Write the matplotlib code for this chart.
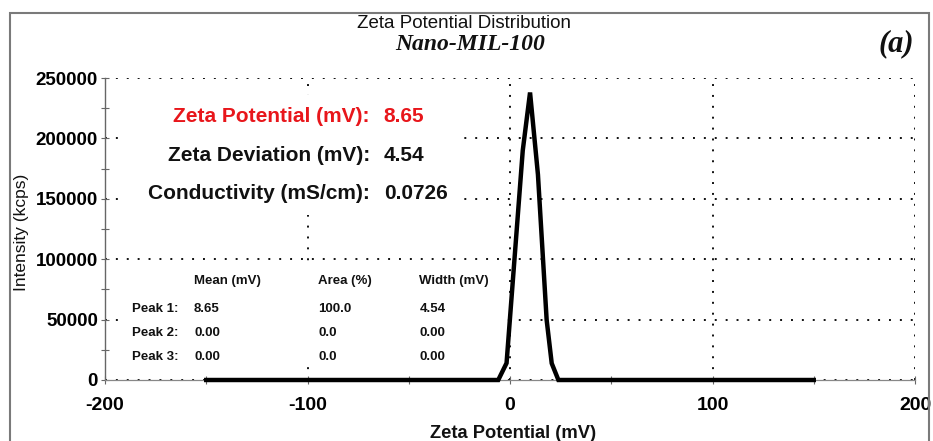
import matplotlib
matplotlib.use("Agg")
import matplotlib.pyplot as plt
from matplotlib.patches import Rectangle
from matplotlib.ticker import MultipleLocator

# Measured distribution (zeta potential in mV vs intensity in kcps)
zeta_mv = [-150.0, -5.8, -1.7, 6.3, 9.9, 13.8, 18.1, 20.6, 23.9, 150.0]
intensity_kcps = [0, 0, 14000, 190000, 238000, 170000, 49700, 13800, 0, 0]

# Summary results
summary_labels = ["Zeta Potential (mV):", "Zeta Deviation (mV):", "Conductivity (mS/cm):"]
summary_values = ["8.65", "4.54", "0.0726"]
summary_colors = ["#e8161b", "#111111", "#111111"]

# Peak table
table_headers = ["Mean (mV)", "Area (%)", "Width (mV)"]
peak_names = ["Peak 1:", "Peak 2:", "Peak 3:"]
peak_mean = ["8.65", "0.00", "0.00"]
peak_area = ["100.0", "0.0", "0.0"]
peak_width = ["4.54", "0.00", "0.00"]

x_ticks = [-200, -100, 0, 100, 200]
y_ticks = [0, 50000, 100000, 150000, 200000, 250000]

SANS = ["Liberation Sans", "DejaVu Sans"]
SERIF = ["Liberation Serif", "DejaVu Serif"]

fig = plt.figure(figsize=(9.33, 4.41), dpi=100)
fig.patch.set_facecolor("white")
ax = fig.add_axes([105 / 933, 1 - 380 / 441, 810 / 933, 302 / 441])

ax.set_xlim(-200, 200)
ax.set_ylim(0, 250000)
ax.set_xticks(x_ticks)
ax.set_yticks(y_ticks)
ax.xaxis.set_minor_locator(MultipleLocator(50))
ax.yaxis.set_minor_locator(MultipleLocator(25000))
ax.set_xticklabels([str(v) for v in x_ticks], fontfamily=SANS, fontweight="bold", fontsize=14)
ax.set_yticklabels([str(v) for v in y_ticks], fontfamily=SANS, fontweight="bold", fontsize=13.5)
ax.tick_params(which="both", direction="inout", length=6, width=0.8, color="#666666", pad=2)
ax.tick_params(axis="x", which="major", pad=9)

for side in ("top", "right"):
    ax.spines[side].set_visible(False)
ax.spines["left"].set_color("#666666")
ax.spines["left"].set_linewidth(1.0)
ax.spines["bottom"].set_color("#888888")
ax.spines["bottom"].set_linewidth(0.9)

# Dotted grid
ax.set_axisbelow(True)
ax.grid(True, which="major", color="#111111", linestyle=(0, (1, 4.6)), linewidth=1.4)

# White panels behind the text blocks
ax.add_patch(Rectangle((0.016, 0.546), 0.42, 0.398, transform=ax.transAxes,
                       facecolor="white", edgecolor="none", zorder=1))
ax.add_patch(Rectangle((0.016, 0.046), 0.47, 0.344, transform=ax.transAxes,
                       facecolor="white", edgecolor="none", zorder=1))

ax.plot(zeta_mv, intensity_kcps, color="black", linewidth=3.2, zorder=4,
        solid_joinstyle="miter", clip_on=False)

# Summary block
for i, (lab, val, col) in enumerate(zip(summary_labels, summary_values, summary_colors)):
    y = [0.871, 0.742, 0.619][i]
    ax.text(0.327, y, lab, transform=ax.transAxes, ha="right", va="center",
            fontfamily=SANS, fontweight="bold", fontsize=15, color=col, zorder=3)
    ax.text(0.344, y, val, transform=ax.transAxes, ha="left", va="center",
            fontfamily=SANS, fontweight="bold", fontsize=15, color=col, zorder=3)

# Peak table
col_x = [0.110, 0.263, 0.388]
row_y = [0.235, 0.156, 0.076]
for cx, head in zip(col_x, table_headers):
    ax.text(cx, 0.328, head, transform=ax.transAxes, ha="left", va="center",
            fontfamily=SANS, fontweight="bold", fontsize=9.5, color="#111111", zorder=3)
for ry, name, m, a, w in zip(row_y, peak_names, peak_mean, peak_area, peak_width):
    ax.text(0.0333, ry, name, transform=ax.transAxes, ha="left", va="center",
            fontfamily=SANS, fontweight="bold", fontsize=9.5, color="#111111", zorder=3)
    for cx, v in zip(col_x, (m, a, w)):
        ax.text(cx, ry, v, transform=ax.transAxes, ha="left", va="center",
                fontfamily=SANS, fontweight="bold", fontsize=9.5, color="#111111", zorder=3)

# Titles and axis labels
fig.text(464 / 933, 1 - 23 / 441, "Zeta Potential Distribution", ha="center", va="center",
         fontfamily=SANS, fontsize=13.5, color="#111111")
fig.text(470 / 933, 1 - 44 / 441, "Nano-MIL-100", ha="center", va="center",
         fontfamily=SERIF, fontsize=17, fontweight="bold", fontstyle="italic", color="#111111")
fig.text(896 / 933, 1 - 44 / 441, "(a)", ha="center", va="center",
         fontfamily=SERIF, fontsize=22, fontweight="bold", fontstyle="italic", color="#111111")
fig.text(22 / 933, 1 - 232 / 441, "Intensity (kcps)", ha="center", va="center", rotation=90,
         fontfamily=SANS, fontsize=12.5, color="#111111")
fig.text(513 / 933, 1 - 434 / 441, "Zeta Potential (mV)", ha="center", va="center",
         fontfamily=SANS, fontsize=13.2, fontweight="bold", color="#111111")

# Outer frame
fig.add_artist(Rectangle((10 / 933, -0.05), 919 / 933, 1.05 - 13 / 441,
                         transform=fig.transFigure, facecolor="none",
                         edgecolor="#7a7a7a", linewidth=1.5))

fig.savefig("out.png", dpi=100)
